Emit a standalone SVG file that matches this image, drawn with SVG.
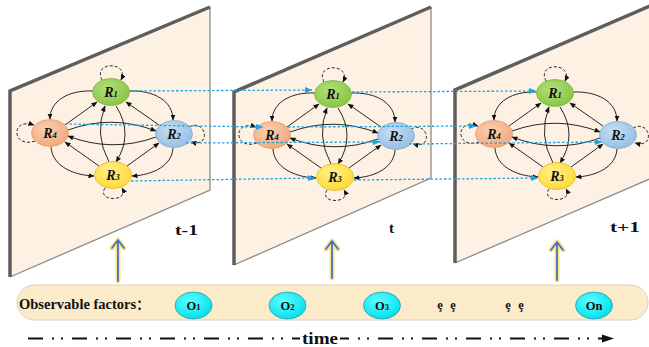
<svg xmlns="http://www.w3.org/2000/svg" xmlns:xlink="http://www.w3.org/1999/xlink" width="649" height="347" viewBox="0 0 649 347">
<style>
.panel{fill:#FDF1E3;stroke:none}
.edgeL{fill:none;stroke:#5E5E5E;stroke-width:3.5;stroke-linejoin:miter}
.edgeR{fill:none;stroke:#8A8A8A;stroke-width:1.3}
.e{fill:none;stroke:#111;stroke-width:0.9;marker-end:url(#ah)}
.loop{fill:none;stroke:#111;stroke-width:0.9;stroke-dasharray:3 2;marker-end:url(#ah)}
.blue{fill:none;stroke:#1BA3E6;stroke-width:1.3;stroke-dasharray:2.5 2;marker-end:url(#bh)}
.rl{font-family:"Liberation Serif","Times New Roman",serif;font-weight:bold;font-style:italic;font-size:14px;fill:#111;text-anchor:middle}
.sub{font-size:8.5px}
.ol{font-family:"Liberation Serif","Times New Roman",serif;font-weight:bold;font-size:12.5px;fill:#111;text-anchor:middle}
.lbl{font-family:"Liberation Serif","Times New Roman",serif;font-weight:bold;font-size:15px;fill:#111}
.glow{stroke:#FFE28A;stroke-width:5;fill:none;stroke-linecap:round;stroke-linejoin:round}
.varr{stroke:#4472C4;stroke-width:1.8;fill:none;stroke-linecap:round;stroke-linejoin:round}
</style>
<defs>
<marker id="ah" markerUnits="userSpaceOnUse" markerWidth="7" markerHeight="6" refX="5.5" refY="2.5" orient="auto">
<path d="M0,0 L6,2.5 L0,5 z" fill="#111"/>
</marker>
<marker id="bh" markerUnits="userSpaceOnUse" markerWidth="9" markerHeight="7" refX="7" refY="3" orient="auto">
<path d="M0,0 L7.5,3 L0,6 z" fill="#1BA3E6"/>
</marker>
<radialGradient id="gG" cx="40%" cy="35%" r="70%"><stop offset="0" stop-color="#B2E07A"/><stop offset="1" stop-color="#86C441"/></radialGradient>
<radialGradient id="gO" cx="40%" cy="35%" r="70%"><stop offset="0" stop-color="#FAD0B2"/><stop offset="1" stop-color="#F2A67A"/></radialGradient>
<radialGradient id="gB" cx="40%" cy="35%" r="70%"><stop offset="0" stop-color="#C7DEF3"/><stop offset="1" stop-color="#93BDE4"/></radialGradient>
<radialGradient id="gY" cx="40%" cy="35%" r="70%"><stop offset="0" stop-color="#FFF08C"/><stop offset="1" stop-color="#FFD832"/></radialGradient>
<radialGradient id="gC" cx="40%" cy="35%" r="70%"><stop offset="0" stop-color="#5CFFFF"/><stop offset="1" stop-color="#00DDEB"/></radialGradient>
<g id="edgeset">
<path class="e" d="M315,93 C290,92 272,103 272,121"/>
<path class="e" d="M351,93 C376,92 395,103 395,122"/>
<path class="e" d="M273,149 C274,166 292,177 316,178"/>
<path class="e" d="M395,150 C394,167 376,177 354,178"/>
<path class="e" d="M287,127 L319,104"/>
<path class="e" d="M381,127 L348,104"/>
<path class="e" d="M321,168 L287,144"/>
<path class="e" d="M349,168 L381,145"/>
<path class="e" d="M290,132 Q334,116 378,133"/>
<path class="e" d="M378,139 Q334,155 290,138"/>
<path class="e" d="M331,164 Q316,136 327,108"/>
<path class="e" d="M338,108 Q356,136 338,164"/>
<path class="loop" d="M324,82 C314,63 352,63 343,82"/>
<path class="loop" d="M257,143 C234,151 232,119 256,127"/>
<path class="loop" d="M411,129 C428,120 434,150 413,144"/>
<path class="loop" d="M327,190 C318,204 352,204 344,190"/>
</g>
</defs>

<g id="panels">
<g id="panel-t-1">
<polygon class="panel" points="10,91 210,7 210,190 10,277"/>
<polyline class="edgeR" points="210,7 210,190 10,277"/>
<polyline class="edgeL" points="10,277 10,91 210,7"/>
</g>
<g id="panel-t">
<polygon class="panel" points="234,92 431,7 431,178 234,265"/>
<polyline class="edgeR" points="431,7 431,178 234,265"/>
<polyline class="edgeL" points="234,265 234,92 431,7"/>
</g>
<g id="panel-t+1">
<polygon class="panel" points="455,90 652,5 652,178 455,263"/>
<polyline class="edgeR" points="652,178 455,263"/>
<polyline class="edgeL" points="455,263 455,90 652,5"/>
</g>
</g>

<g id="connectors">
<use xlink:href="#edgeset" href="#edgeset" transform="translate(-222,-2)"/>
<use xlink:href="#edgeset" href="#edgeset"/>
<use xlink:href="#edgeset" href="#edgeset" transform="translate(222,-1)"/>
</g>

<g id="nodes-t-1" transform="translate(-222,-2)">
<g id="p1-R1"><ellipse cx="333" cy="94" rx="18.5" ry="13.5" fill="url(#gG)" stroke="#7DB63C" stroke-width="0.8"/><text class="rl" x="333" y="98.5">R<tspan class="sub">1</tspan></text></g>
<g id="p1-R4"><ellipse cx="272" cy="135" rx="18.5" ry="13.5" fill="url(#gO)" stroke="#E39A6C" stroke-width="0.8"/><text class="rl" x="272" y="139.5">R<tspan class="sub">4</tspan></text></g>
<g id="p1-R2"><ellipse cx="396" cy="136" rx="18.5" ry="13.5" fill="url(#gB)" stroke="#82AAD2" stroke-width="0.8"/><text class="rl" x="396" y="140.5">R<tspan class="sub">2</tspan></text></g>
<g id="p1-R3"><ellipse cx="335" cy="177" rx="18.5" ry="13.5" fill="url(#gY)" stroke="#DDBB2A" stroke-width="0.8"/><text class="rl" x="335" y="181.5">R<tspan class="sub">3</tspan></text></g>
</g>
<g id="nodes-t">
<g id="p2-R1"><ellipse cx="333" cy="94" rx="18.5" ry="13.5" fill="url(#gG)" stroke="#7DB63C" stroke-width="0.8"/><text class="rl" x="333" y="98.5">R<tspan class="sub">1</tspan></text></g>
<g id="p2-R4"><ellipse cx="272" cy="135" rx="18.5" ry="13.5" fill="url(#gO)" stroke="#E39A6C" stroke-width="0.8"/><text class="rl" x="272" y="139.5">R<tspan class="sub">4</tspan></text></g>
<g id="p2-R2"><ellipse cx="396" cy="136" rx="18.5" ry="13.5" fill="url(#gB)" stroke="#82AAD2" stroke-width="0.8"/><text class="rl" x="396" y="140.5">R<tspan class="sub">2</tspan></text></g>
<g id="p2-R3"><ellipse cx="335" cy="177" rx="18.5" ry="13.5" fill="url(#gY)" stroke="#DDBB2A" stroke-width="0.8"/><text class="rl" x="335" y="181.5">R<tspan class="sub">3</tspan></text></g>
</g>
<g id="nodes-t+1" transform="translate(222,-1)">
<g id="p3-R1"><ellipse cx="333" cy="94" rx="18.5" ry="13.5" fill="url(#gG)" stroke="#7DB63C" stroke-width="0.8"/><text class="rl" x="333" y="98.5">R<tspan class="sub">1</tspan></text></g>
<g id="p3-R4"><ellipse cx="272" cy="135" rx="18.5" ry="13.5" fill="url(#gO)" stroke="#E39A6C" stroke-width="0.8"/><text class="rl" x="272" y="139.5">R<tspan class="sub">4</tspan></text></g>
<g id="p3-R2"><ellipse cx="396" cy="136" rx="18.5" ry="13.5" fill="url(#gB)" stroke="#82AAD2" stroke-width="0.8"/><text class="rl" x="396" y="140.5">R<tspan class="sub">2</tspan></text></g>
<g id="p3-R3"><ellipse cx="335" cy="177" rx="18.5" ry="13.5" fill="url(#gY)" stroke="#DDBB2A" stroke-width="0.8"/><text class="rl" x="335" y="181.5">R<tspan class="sub">3</tspan></text></g>
</g>

<g id="temporal-connectors">
<path class="blue" d="M131,91 L312,90"/>
<path class="blue" d="M65,124 L263,127"/>
<path class="blue" d="M186,143 L380,142"/>
<path class="blue" d="M131,181 L315,178"/>
<path class="blue" d="M352,92 L536,91"/>
<path class="blue" d="M288,127 L476,126"/>
<path class="blue" d="M409,144 L602,142"/>
<path class="blue" d="M354,180 L538,178"/>
</g>

<g id="time-labels">
<text class="lbl" x="175" y="235" textLength="23" lengthAdjust="spacingAndGlyphs">t-1</text>
<text class="lbl" x="389" y="233">t</text>
<text class="lbl" x="610" y="232" textLength="30" lengthAdjust="spacingAndGlyphs">t+1</text>
</g>

<g id="up-arrows">
<g id="up1"><path class="glow" d="M118,281 V241 M112,248 L118,240 L124,248"/><path class="varr" d="M118,281 V241 M112,248 L118,240 L124,248"/></g>
<g id="up2"><path class="glow" d="M332,278 V242 M326,249 L332,241 L338,249"/><path class="varr" d="M332,278 V242 M326,249 L332,241 L338,249"/></g>
<g id="up3"><path class="glow" d="M557,280 V243 M551,250 L557,242 L563,250"/><path class="varr" d="M557,280 V243 M551,250 L557,242 L563,250"/></g>
</g>

<g id="observable-bar">
<rect x="17" y="285" width="631" height="35" rx="17.5" fill="#FCEBC9" stroke="#D8D2C6" stroke-width="1"/>
<text x="19" y="309" font-family="'Liberation Serif','Times New Roman','Noto Sans CJK SC',serif" font-weight="bold" font-size="14.5" fill="#111">Observable factors<tspan font-family="'Noto Sans CJK SC',sans-serif" font-size="13">：</tspan></text>
</g>
<g id="O1"><ellipse cx="193.5" cy="305.5" rx="18.5" ry="13.5" fill="url(#gC)" stroke="#2A9AAE" stroke-width="0.8"/><text class="ol" x="193.5" y="309.5">O<tspan font-size="8.5">1</tspan></text></g>
<g id="O2"><ellipse cx="287.5" cy="305.5" rx="18.5" ry="13.5" fill="url(#gC)" stroke="#2A9AAE" stroke-width="0.8"/><text class="ol" x="287.5" y="309.5">O<tspan font-size="8.5">2</tspan></text></g>
<g id="O3"><ellipse cx="382" cy="305.5" rx="18.5" ry="13.5" fill="url(#gC)" stroke="#2A9AAE" stroke-width="0.8"/><text class="ol" x="382" y="309.5">O<tspan font-size="8.5">3</tspan></text></g>
<g id="On"><ellipse cx="594" cy="305.5" rx="18.5" ry="13.5" fill="url(#gC)" stroke="#2A9AAE" stroke-width="0.8"/><text class="ol" x="594" y="309.5">On</text></g>
<text class="ol" y="309"><tspan x="440">ȩ</tspan><tspan x="453">ȩ</tspan></text>
<text class="ol" y="309"><tspan x="508">ȩ</tspan><tspan x="521">ȩ</tspan></text>

<g id="timeline">
<path d="M28,338.5 H300" stroke="#111" stroke-width="2" stroke-dasharray="15 9 2 7 2 9" fill="none"/>
<path d="M340,338.5 H604" stroke="#111" stroke-width="2" stroke-dasharray="15 9 2 7 2 9" stroke-dashoffset="6" fill="none"/>
<polygon points="602,334.5 614,338.5 602,342.5" fill="#111"/>
<text x="302" y="344" font-family="'Liberation Serif','Times New Roman',serif" font-weight="bold" font-size="16" textLength="36" lengthAdjust="spacingAndGlyphs" fill="#111">time</text>
</g>
</svg>
